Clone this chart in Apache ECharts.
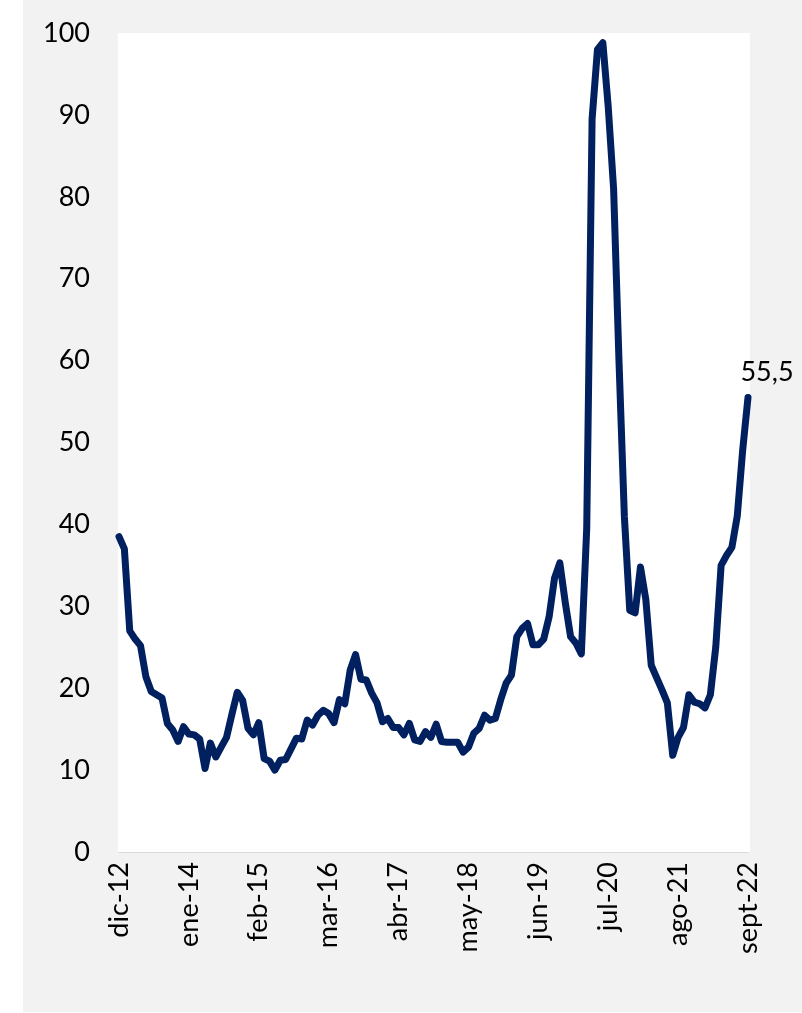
<!doctype html>
<html>
<head>
<meta charset="utf-8">
<title>Índice</title>
<script src="https://cdn.jsdelivr.net/npm/echarts@6/dist/echarts.min.js"></script>
<style>
  body { margin: 0; background: #fff; }
  #bg { position: absolute; left: 23px; top: 0; width: 779px; height: 1012px; background: #f2f2f2; }
  #main { position: absolute; left: 0; top: 0; width: 802px; height: 1013px; }
</style>
</head>
<body>
<div id="bg"></div>
<div id="main"></div>
<script>
// meses en español, serie mensual dic-12 .. sept-22
var mesesNombres = ['ene', 'feb', 'mar', 'abr', 'may', 'jun', 'jul', 'ago', 'sept', 'oct', 'nov', 'dic'];
var inicioMes = 11;   // diciembre
var inicioAnio = 12;

var valores = [
  38.5, 37, 27, 26, 25.2, 21.4, 19.6, 19.2, 18.8, 15.7,
  14.9, 13.5, 15.3, 14.4, 14.3, 13.8, 10.2, 13.3, 11.6, 12.8,
  14, 16.8, 19.5, 18.5, 15.1, 14.3, 15.8, 11.4, 11.1, 10,
  11.2, 11.3, 12.6, 13.9, 13.8, 16.1, 15.5, 16.7, 17.3, 16.9,
  15.8, 18.6, 18.1, 22.2, 24.1, 21.1, 21, 19.4, 18.2, 15.9,
  16.3, 15.2, 15.2, 14.3, 15.7, 13.7, 13.5, 14.7, 14, 15.6,
  13.5, 13.4, 13.4, 13.4, 12.2, 12.8, 14.5, 15.1, 16.7, 16.1,
  16.3, 18.6, 20.6, 21.6, 26.3, 27.3, 27.9, 25.3, 25.3, 26,
  28.7, 33.4, 35.3, 30.5, 26.3, 25.5, 24.2, 39.5, 89.5, 98,
  98.8, 91, 81, 60, 41, 29.5, 29.2, 34.8, 30.8, 22.8,
  21.3, 19.8, 18.2, 11.8, 14, 15.2, 19.2, 18.3, 18.1, 17.6,
  19.2, 25, 35, 36.2, 37.2, 41, 49, 55.5
];

var categorias = [];
for (var i = 0; i < valores.length; i++) {
  var m = (inicioMes + i) % 12;
  var a = inicioAnio + Math.floor((inicioMes + i) / 12);
  categorias.push(mesesNombres[m] + '-' + a);
}

var fuente = 'Lato';
var azul = '#002060';

// solo el último punto lleva etiqueta
var serieDatos = valores.map(function (v, i) {
  if (i == valores.length - 1) {
    return {
      value: v,
      label: {
        show: true,
        position: 'top',
        distance: 5,
        offset: [19, -7],
        formatter: function (p) { return String(p.value).replace('.', ','); },
        fontFamily: fuente,
        fontSize: 27,
        color: '#000'
      }
    };
  }
  return v;
});

var myChart = echarts.init(document.getElementById('main'));
var option = {
  animation: false,
  graphic: [{
    type: 'rect',
    z: -10,
    shape: { x: 118, y: 33, width: 632, height: 819 },
    style: { fill: '#fff' }
  }],
  grid: { left: 119, right: 54, top: 33, bottom: 161 },
  xAxis: {
    type: 'category',
    data: categorias,
    boundaryGap: false,
    axisLine: { lineStyle: { color: '#d9d9d9', width: 1 } },
    axisTick: { show: false },
    axisLabel: {
      interval: 12,
      rotate: 90,
      margin: 10,
      fontFamily: fuente,
      fontSize: 27,
      color: '#000'
    }
  },
  yAxis: {
    type: 'value',
    min: 0,
    max: 100,
    interval: 10,
    splitLine: { show: false },
    axisLine: { show: false },
    axisTick: { show: false },
    axisLabel: {
      margin: 29,
      fontFamily: fuente,
      fontSize: 27,
      color: '#000'
    }
  },
  series: [{
    type: 'line',
    data: serieDatos,
    symbol: 'circle',
    symbolSize: 0,
    showSymbol: true,
    showAllSymbol: true,
    clip: false,
    lineStyle: { color: azul, width: 7, cap: 'round', join: 'round' },
    itemStyle: { color: azul }
  }]
};
myChart.setOption(option);
</script>
</body>
</html>
